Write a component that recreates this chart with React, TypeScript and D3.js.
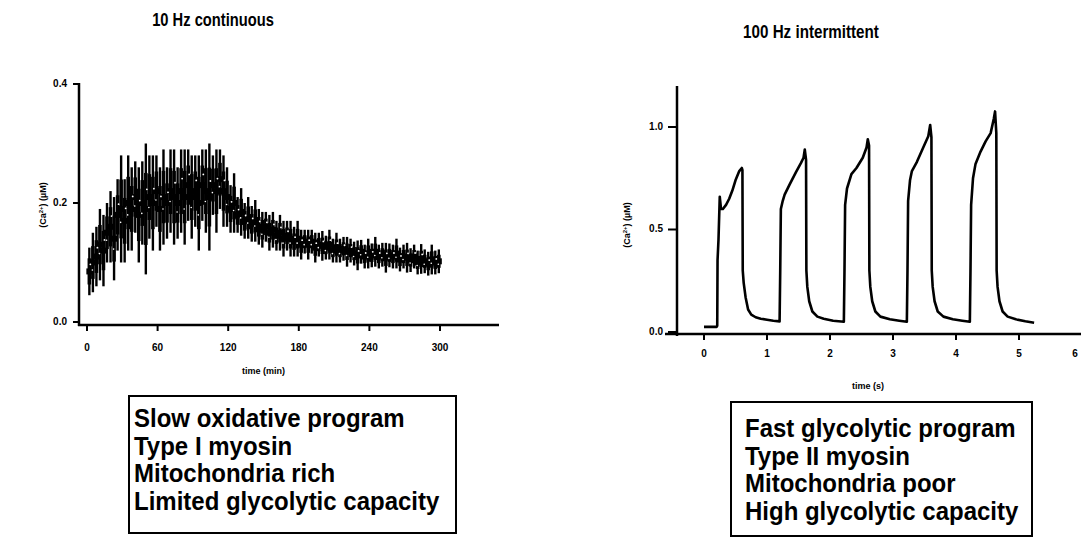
import React from "react";
import * as d3 from "d3";

// ---------- Left panel: 10 Hz continuous (mean ± error) ----------
const contTimes = [2,5,8,11,14,17,20,23,26,29,32,35,38,41,44,47,50,53,56,59,62,65,68,71,74,77,80,83,86,89,92,95,98,101,104,107,110,113,116,119,122,125,128,131,134,137,140,143,146,149,152,155,158,161,164,167,170,173,176,179,182,185,188,191,194,197,200,203,206,209,212,215,218,221,224,227,230,233,236,239,242,245,248,251,254,257,260,263,266,269,272,275,278,281,284,287,290,293,296,299];
const contMeans = [
  0.085,0.10,0.11,0.13,0.12,0.15,0.16,0.14,0.18,0.19,
  0.17,0.20,0.19,0.21,0.18,0.20,0.19,0.21,0.20,0.22,
  0.19,0.21,0.20,0.22,0.21,0.20,0.22,0.21,0.23,0.21,
  0.22,0.20,0.23,0.22,0.21,0.23,0.22,0.24,0.22,0.21,
  0.19,0.20,0.18,0.185,0.17,0.175,0.165,0.17,0.16,0.155,
  0.16,0.15,0.155,0.145,0.15,0.14,0.145,0.14,0.135,0.14,
  0.13,0.135,0.13,0.135,0.125,0.13,0.128,0.125,0.13,0.12,
  0.125,0.12,0.123,0.118,0.12,0.115,0.112,0.118,0.11,0.115,
  0.112,0.118,0.11,0.113,0.108,0.112,0.11,0.115,0.105,0.11,
  0.108,0.104,0.11,0.10,0.106,0.102,0.098,0.105,0.10,0.102
];
const contErrs = [
  0.04,0.05,0.05,0.06,0.06,0.05,0.06,0.07,0.06,0.09,
  0.07,0.08,0.07,0.06,0.08,0.07,0.11,0.07,0.08,0.06,
  0.07,0.08,0.06,0.07,0.08,0.06,0.07,0.08,0.06,0.07,
  0.06,0.08,0.06,0.07,0.09,0.05,0.07,0.05,0.06,0.05,
  0.04,0.05,0.03,0.04,0.03,0.035,0.03,0.035,0.03,0.03,
  0.025,0.03,0.03,0.025,0.03,0.03,0.025,0.03,0.025,0.03,
  0.025,0.02,0.025,0.02,0.025,0.02,0.025,0.02,0.025,0.02,
  0.025,0.02,0.02,0.025,0.02,0.02,0.025,0.02,0.02,0.025,
  0.02,0.025,0.02,0.02,0.025,0.02,0.02,0.025,0.02,0.02,
  0.025,0.02,0.02,0.02,0.025,0.02,0.02,0.025,0.02,0.02
];
const contXTicks = [0, 60, 120, 180, 240, 300];
const contYTicks = [0, 0.2, 0.4];

// ---------- Right panel: 100 Hz intermittent (trace) ----------
const intTimes = [
  0,0.2,0.21,0.215,0.23,0.25,0.27,0.3,0.35,0.4,0.45,0.5,0.56,0.6,0.61,0.615,0.63,0.66,0.7,0.75,0.82,0.9,1.0,1.1,1.2,
  1.21,1.22,1.25,1.28,1.36,1.46,1.54,1.58,1.6,1.62,1.625,1.64,1.67,1.72,1.8,1.9,2.05,2.22,
  2.23,2.24,2.27,2.34,2.42,2.52,2.58,2.6,2.62,2.625,2.64,2.67,2.72,2.8,2.95,3.1,3.22,
  3.23,3.24,3.27,3.3,3.38,3.48,3.56,3.59,3.61,3.615,3.63,3.66,3.71,3.8,3.95,4.1,4.22,
  4.23,4.24,4.27,4.31,4.39,4.47,4.55,4.6,4.62,4.64,4.645,4.66,4.69,4.74,4.82,4.95,5.1,5.24
];
const intValues = [
  0.025,0.025,0.03,0.35,0.45,0.66,0.6,0.6,0.62,0.65,0.69,0.74,0.785,0.8,0.79,0.3,0.24,0.17,0.11,0.085,0.072,0.065,0.06,0.055,0.052,
  0.3,0.6,0.64,0.67,0.72,0.78,0.825,0.85,0.89,0.84,0.3,0.22,0.15,0.1,0.075,0.065,0.055,0.05,
  0.3,0.62,0.7,0.77,0.8,0.85,0.9,0.94,0.91,0.3,0.22,0.15,0.1,0.075,0.062,0.055,0.05,
  0.3,0.64,0.74,0.785,0.83,0.9,0.955,1.01,0.95,0.3,0.22,0.15,0.1,0.075,0.062,0.055,0.05,
  0.3,0.62,0.75,0.82,0.88,0.93,0.97,1.04,1.076,0.97,0.3,0.22,0.15,0.1,0.075,0.062,0.052,0.045
];
const intXTicks = [0, 1, 2, 3, 4, 5, 6];
const intYTicks = [0, 0.5, 1.0];

// ---------- Text ----------
const titles = ["10 Hz continuous", "100 Hz intermittent"];
const xLabels = ["time (min)", "time (s)"];
const slowLines = ["Slow oxidative program", "Type I myosin", "Mitochondria rich", "Limited glycolytic capacity"];
const fastLines = ["Fast glycolytic program", "Type II myosin", "Mitochondria poor", "High glycolytic capacity"];

const FONT = "'Liberation Sans', Arial, Helvetica, sans-serif";

function YLabel({ x, y }: { x: number; y: number }) {
  return (
    <text
      transform={`translate(${x},${y}) rotate(-90)`}
      textAnchor="middle"
      fontSize={9}
      fontWeight="bold"
      fontFamily={FONT}
      dominantBaseline="middle"
    >
      (Ca<tspan dy={-3} fontSize={6}>2+</tspan>
      <tspan dy={3}>) (µM)</tspan>
    </text>
  );
}

function TextBox({ x, y, w, h, lines, tx, baseline0 }: { x: number; y: number; w: number; h: number; lines: string[]; tx: number; baseline0: number }) {
  return (
    <g>
      <rect x={x} y={y} width={w} height={h} fill="none" stroke="#000" strokeWidth={2} />
      {lines.map((l, i) => (
        <text
          key={i}
          transform={`translate(${tx},${baseline0 + i * 27.6}) scale(1,1.08)`}
          fontSize={24}
          fontWeight="bold"
          fontFamily={FONT}
          fill="#000"
        >
          {l}
        </text>
      ))}
    </g>
  );
}

export default function App() {
  const xL = d3.scaleLinear().domain([0, 300]).range([87, 440]);
  const yL = d3.scaleLinear().domain([0, 0.4]).range([322, 84]);
  const xR = d3.scaleLinear().domain([0, 6]).range([704, 1082]);
  const yR = d3.scaleLinear().domain([0, 1]).range([332, 127]);

  const trace = d3
    .line<number>()
    .x((_, i) => xR(intTimes[i]))
    .y((v) => yR(v))(intValues) as string;

  const tickFont = { fontSize: 10, fontWeight: "bold" as const, fontFamily: FONT };

  return (
    <div style={{ position: "absolute", left: 0, top: 0, width: 1081, height: 543, background: "#fff" }}>
      <svg width={1081} height={543} style={{ display: "block", background: "#fff" }}>
        {/* Titles */}
        <text transform="translate(213,26) scale(0.92,1.12)" textAnchor="middle" fontSize={16} fontWeight="bold" fontFamily={FONT}>{titles[0]}</text>
        <text transform="translate(811,38) scale(0.92,1.12)" textAnchor="middle" fontSize={16.5} fontWeight="bold" fontFamily={FONT}>{titles[1]}</text>

        {/* ---- Left chart ---- */}
        <line x1={79} y1={83} x2={79} y2={326} stroke="#000" strokeWidth={2.5} />
        <line x1={78} y1={325} x2={499} y2={325} stroke="#000" strokeWidth={2.5} />
        {contYTicks.map((t) => (
          <g key={t}>
            <line x1={73} x2={79} y1={yL(t)} y2={yL(t)} stroke="#000" strokeWidth={2} />
            <text x={67} y={yL(t)} textAnchor="end" dominantBaseline="middle" {...tickFont}>{t.toFixed(1)}</text>
          </g>
        ))}
        {contXTicks.map((t) => (
          <g key={t}>
            <line x1={xL(t)} x2={xL(t)} y1={325} y2={331} stroke="#000" strokeWidth={2} />
            <text x={xL(t)} y={348} textAnchor="middle" dominantBaseline="middle" {...tickFont}>{t}</text>
          </g>
        ))}
        <text x={xL(150)} y={372} textAnchor="middle" dominantBaseline="middle" fontSize={9} fontWeight="bold" fontFamily={FONT}>{xLabels[0]}</text>
        <YLabel x={44} y={205} />
        {contTimes.map((t, i) => (
          <line
            key={"e" + i}
            x1={xL(t)}
            x2={xL(t)}
            y1={yL(contMeans[i] - contErrs[i])}
            y2={yL(contMeans[i] + contErrs[i])}
            stroke="#000"
            strokeWidth={2.4}
          />
        ))}
        {contTimes.map((t, i) => (
          <rect
            key={"m" + i}
            x={xL(t) - 3}
            y={yL(contMeans[i]) - 3}
            width={6}
            height={6}
            fill="#000"
          />
        ))}
        {contTimes.map((t, i) => (
          <rect
            key={"band" + i}
            x={xL(t) - 1.8}
            y={yL(contMeans[i] + contErrs[i] * 0.55)}
            width={3.6}
            height={Math.max(0, yL(contMeans[i] - contErrs[i] * 0.55) - yL(contMeans[i] + contErrs[i] * 0.55))}
            fill="#000"
          />
        ))}
        {contTimes.map((t, i) =>
          i % 2 === 0 ? (
            <circle key={"w" + i} cx={xL(t) + 1} cy={yL(contMeans[i] + contErrs[i] * 0.3)} r={0.9} fill="#fff" />
          ) : (
            <circle key={"w" + i} cx={xL(t) - 0.5} cy={yL(contMeans[i] - contErrs[i] * 0.25)} r={0.8} fill="#fff" />
          )
        )}

        {/* ---- Right chart ---- */}
        <line x1={677} y1={86} x2={677} y2={336} stroke="#000" strokeWidth={2.5} />
        <line x1={665} y1={334} x2={1081} y2={334} stroke="#000" strokeWidth={2.5} />
        {intYTicks.map((t) => (
          <g key={t}>
            <line x1={668} x2={677} y1={yR(t)} y2={yR(t)} stroke="#000" strokeWidth={2} />
            <text x={663} y={yR(t)} textAnchor="end" dominantBaseline="middle" {...tickFont}>{t.toFixed(1)}</text>
          </g>
        ))}
        {intXTicks.map((t) => (
          <g key={t}>
            <line x1={xR(t)} x2={xR(t)} y1={334} y2={340} stroke="#000" strokeWidth={2} />
            <text x={Math.min(xR(t), 1075)} y={354} textAnchor="middle" dominantBaseline="middle" {...tickFont}>{t}</text>
          </g>
        ))}
        <text x={868} y={387} textAnchor="middle" dominantBaseline="middle" fontSize={9} fontWeight="bold" fontFamily={FONT}>{xLabels[1]}</text>
        <YLabel x={628} y={225} />
        <path d={trace} fill="none" stroke="#000" strokeWidth={2.6} strokeLinejoin="round" />

        {/* ---- Text boxes ---- */}
        <TextBox x={129} y={396} w={327} h={137} lines={slowLines} tx={134} baseline0={427} />
        <TextBox x={731} y={402} w={301} h={134} lines={fastLines} tx={745} baseline0={437} />
      </svg>
    </div>
  );
}
